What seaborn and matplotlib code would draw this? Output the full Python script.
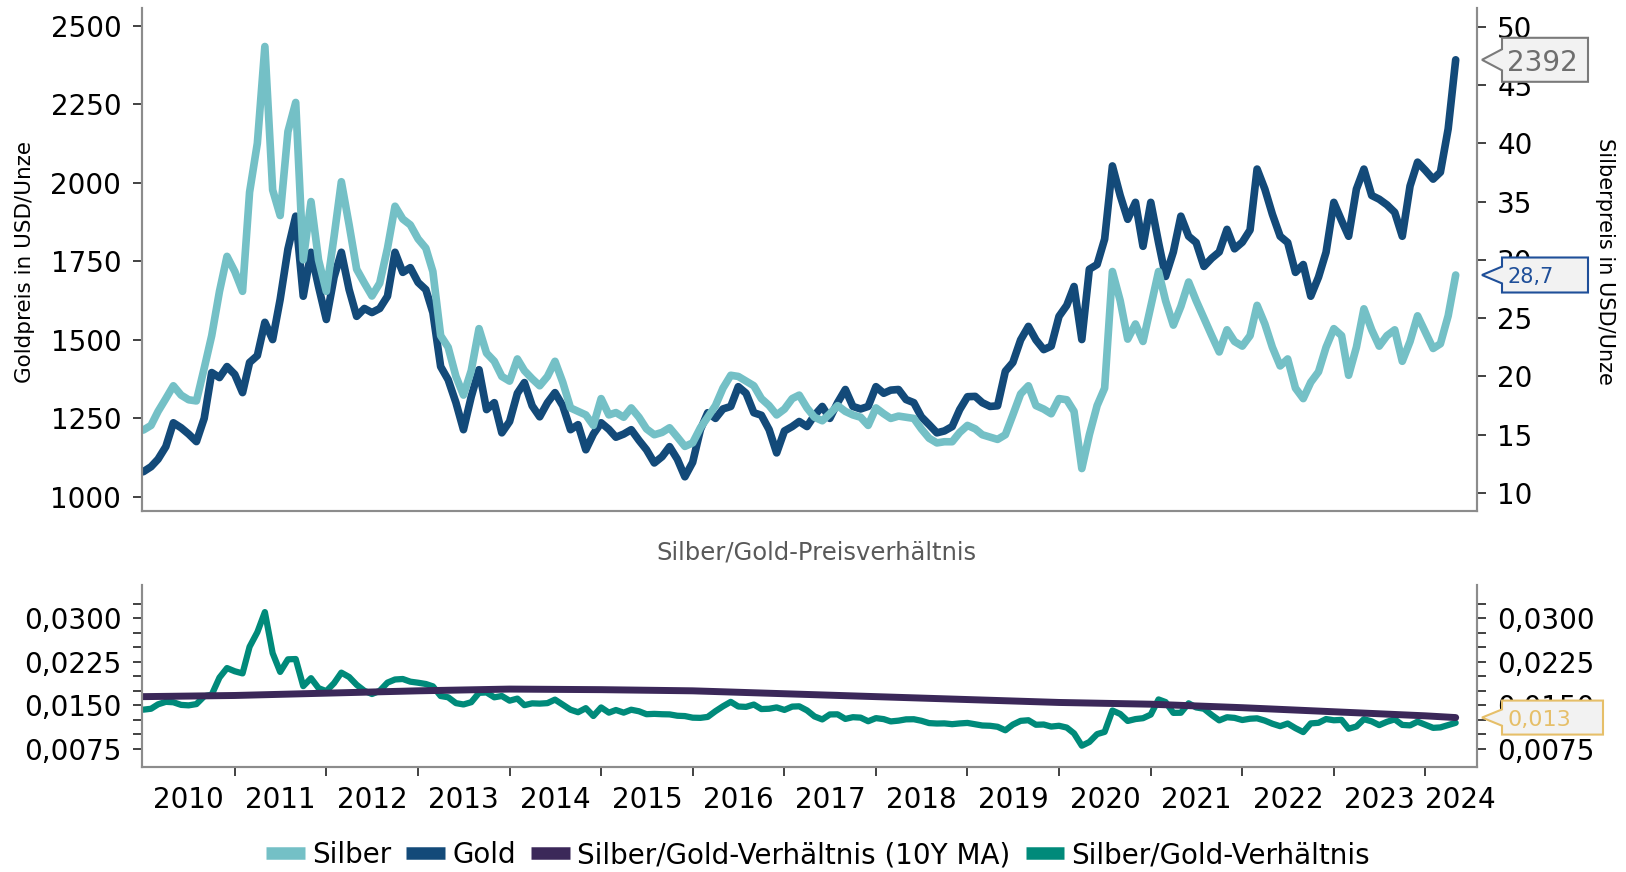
import numpy as np
import pandas as pd
import matplotlib
matplotlib.use("Agg")
import matplotlib.pyplot as plt
from matplotlib.lines import Line2D
from matplotlib.patches import Polygon
from matplotlib.ticker import FixedLocator, FuncFormatter
import seaborn as sns

# monthly values Jan 2010 - May 2024
gold = [1080, 1096, 1120, 1160, 1236, 1220, 1200, 1176, 1250, 1396, 1380, 1415,
        1390, 1332, 1428, 1450, 1556, 1501, 1629, 1789, 1894, 1639, 1779, 1670,
        1565, 1700, 1779, 1660, 1575, 1600, 1587, 1600, 1639, 1779, 1715, 1730,
        1683, 1660, 1587, 1415, 1373, 1300, 1214, 1319, 1405, 1278, 1300, 1204,
        1240, 1330, 1364, 1290, 1255, 1300, 1332, 1290, 1214, 1230, 1150, 1200,
        1236, 1215, 1190, 1200, 1214, 1180, 1150, 1108, 1128, 1160, 1120, 1064,
        1110, 1214, 1268, 1250, 1280, 1288, 1351, 1330, 1268, 1260, 1214, 1140,
        1210, 1224, 1240, 1224, 1260, 1288, 1250, 1300, 1342, 1288, 1280, 1288,
        1351, 1330, 1340, 1342, 1310, 1300, 1255, 1230, 1204, 1210, 1224, 1278,
        1319, 1320, 1300, 1288, 1290, 1400, 1428, 1500, 1543, 1500, 1469, 1480,
        1575, 1610, 1670, 1501, 1725, 1740, 1821, 2054, 1960, 1884, 1938, 1798,
        1938, 1810, 1702, 1780, 1894, 1830, 1810, 1734, 1760, 1780, 1852, 1790,
        1811, 1850, 2044, 1980, 1900, 1830, 1810, 1715, 1740, 1639, 1700, 1779,
        1938, 1880, 1830, 1980, 2044, 1960, 1948, 1930, 1906, 1830, 1990, 2066,
        2040, 2012, 2034, 2172, 2392]

silver = [15.4, 15.8, 17.0, 18.1, 19.2, 18.4, 18.0, 17.9, 20.7, 23.5, 27.3, 30.3,
          29.0, 27.3, 35.8, 40.0, 48.3, 36.0, 33.8, 41.0, 43.5, 30.0, 35.0, 30.0,
          27.3, 32.0, 36.7, 33.0, 29.2, 28.0, 26.9, 28.0, 31.0, 34.6, 33.5, 33.0,
          31.8, 31.0, 29.0, 23.5, 22.5, 20.0, 18.4, 20.5, 24.1, 22.0, 21.3, 20.0,
          19.6, 21.5, 20.5, 19.8, 19.2, 20.0, 21.3, 19.5, 17.3, 17.0, 16.7, 15.8,
          18.1, 16.7, 16.9, 16.5, 17.3, 16.5, 15.5, 15.0, 15.2, 15.6, 14.8, 14.0,
          14.3, 15.6, 16.5, 17.5, 19.0, 20.1, 20.0, 19.6, 19.2, 18.1, 17.5, 16.7,
          17.2, 18.1, 18.4, 17.3, 16.5, 16.2, 16.8, 17.5, 17.0, 16.7, 16.5, 15.8,
          17.3, 16.8, 16.4, 16.6, 16.5, 16.4, 15.5, 14.7, 14.3, 14.4, 14.4, 15.2,
          15.8, 15.5, 15.0, 14.8, 14.6, 15.0, 16.7, 18.5, 19.2, 17.5, 17.2, 16.8,
          18.1, 18.0, 17.0, 12.1, 15.0, 17.5, 19.0, 29.0, 26.5, 23.2, 24.5, 23.0,
          26.0, 29.0, 26.5, 24.4, 26.0, 28.1, 26.5, 25.0, 23.5, 22.1, 24.0, 23.0,
          22.6, 23.5, 26.1, 24.5, 22.5, 20.9, 21.5, 19.0, 18.1, 19.5, 20.4, 22.5,
          24.1, 23.5, 20.1, 22.5, 25.8, 24.0, 22.6, 23.5, 24.0, 21.3, 23.0, 25.2,
          23.8, 22.4, 22.8, 25.2, 28.7]

# 10Y moving average of the ratio, read at the start of each year
ma_dates = ["2010-01-01", "2011-01-01", "2012-01-01", "2013-01-01", "2014-01-01",
            "2015-01-01", "2016-01-01", "2017-01-01", "2018-01-01", "2019-01-01",
            "2020-01-01", "2021-01-01", "2022-01-01", "2023-01-01", "2024-01-01",
            "2024-05-01"]
ma_ratio = [0.0165, 0.0167, 0.0171, 0.0175, 0.0178, 0.0177, 0.0175, 0.0170,
            0.0165, 0.0160, 0.0155, 0.0152, 0.0146, 0.0139, 0.0132, 0.0129]

years = list(range(2010, 2025))
gold_ticks = [1000, 1250, 1500, 1750, 2000, 2250, 2500]
silver_ticks = [10, 15, 20, 25, 30, 35, 40, 45, 50]
ratio_labels = [0.0075, 0.0150, 0.0225, 0.0300]

c_silver = "#74c0c6"
c_gold = "#134a79"
c_ma = "#3b2859"
c_ratio = "#008a7a"
c_spine = "#8c8c8c"

df = pd.DataFrame({"date": pd.date_range("2010-01-01", periods=len(gold), freq="MS"),
                   "Gold": gold, "Silber": silver})
df["Verh"] = df["Silber"] / df["Gold"]
ma_df = pd.DataFrame({"date": pd.to_datetime(ma_dates), "MA": ma_ratio})

sns.set_theme(style="ticks")
plt.rcParams["font.family"] = ["DejaVu Sans"]
plt.rcParams["text.color"] = "black"
plt.rcParams["xtick.labelcolor"] = "black"
plt.rcParams["ytick.labelcolor"] = "black"

W, H = 1626, 872
fig = plt.figure(figsize=(W / 100, H / 100), dpi=100)
ax_top = fig.add_axes([141.5 / W, 1 - 511 / H, (1477 - 141.5) / W, (511 - 8) / H])
ax_sil = ax_top.twinx()
ax_bot = fig.add_axes([141.5 / W, 1 - 767 / H, (1477 - 141.5) / W, (767 - 585) / H])
ax_bot_r = ax_bot.twinx()

sns.lineplot(data=df, x="date", y="Gold", ax=ax_top, color=c_gold, lw=5.5, legend=False)
sns.lineplot(data=df, x="date", y="Silber", ax=ax_sil, color=c_silver, lw=5.5, legend=False)
sns.lineplot(data=df, x="date", y="Verh", ax=ax_bot, color=c_ratio, lw=4.5, legend=False)
sns.lineplot(data=ma_df, x="date", y="MA", ax=ax_bot, color=c_ma, lw=5, legend=False)

xlim = (pd.Timestamp("2009-12-25"), pd.Timestamp("2024-07-25"))
for ax in (ax_top, ax_sil, ax_bot, ax_bot_r):
    ax.set_xlim(xlim)
    ax.set_xlabel("")
    ax.set_ylabel("")
    for s in ax.spines.values():
        s.set_color(c_spine)
        s.set_linewidth(1.5)
    ax.spines["top"].set_visible(False)

ax_top.set_ylim(955, 2557)
ax_sil.set_ylim(8.46, 51.6)
ax_top.yaxis.set_major_locator(FixedLocator(gold_ticks))
ax_sil.yaxis.set_major_locator(FixedLocator(silver_ticks))
ax_top.tick_params(axis="x", bottom=False, labelbottom=False)
ax_top.tick_params(axis="y", labelsize=20, length=6.5, width=1.3, color="#333333", pad=8)
ax_sil.tick_params(axis="y", labelsize=20, length=6.5, width=1.3, color="#333333", pad=8)

# bottom panel y axis (both sides)
ratio_ticks = np.arange(0.0075, 0.0326, 0.0025)
def ratio_fmt(v, _):
    if any(abs(v - r) < 1e-7 for r in ratio_labels):
        return f"{v:.4f}".replace(".", ",")
    return ""
for ax in (ax_bot, ax_bot_r):
    ax.set_ylim(0.0044, 0.0357)
    ax.yaxis.set_major_locator(FixedLocator(ratio_ticks))
    ax.yaxis.set_major_formatter(FuncFormatter(ratio_fmt))
    ax.tick_params(axis="y", labelsize=20, length=6.5, width=1.3, color="#333333", pad=8)

# year ticks at year starts, labels centred in each year's span
edges = [xlim[0]] + [pd.Timestamp(f"{y}-01-01") for y in years[1:]] + [xlim[1]]
mids = [edges[i] + (edges[i + 1] - edges[i]) / 2 for i in range(len(years))]
mids[-1] = edges[-2] + (edges[-1] - edges[-2]) * 0.68  # last label sits a bit to the right
ax_bot.set_xticks(edges[1:-1])
ax_bot.set_xticklabels([])
ax_bot.set_xticks(mids, minor=True)
ax_bot.set_xticklabels([str(y) for y in years], minor=True)
ax_bot.tick_params(axis="x", which="major", length=6.5, width=1.3, color="#333333")
ax_bot.tick_params(axis="x", which="minor", length=0, labelsize=20, pad=14)
ax_bot_r.tick_params(axis="x", bottom=False, labelbottom=False)

fig.text(25 / W, 1 - 262 / H, "Goldpreis in USD/Unze", rotation=90, ha="center",
         va="center", fontsize=15.5)
fig.text(1605 / W, 1 - 261 / H, "Silberpreis in USD/Unze", rotation=270, ha="center",
         va="center", fontsize=15)
fig.text(816 / W, 1 - 553 / H, "Silber/Gold-Preisverhältnis", ha="center", va="center",
         fontsize=17.5, color="#595959")


def callout(ax, yval, label, tcolor, ecolor, fs, w, h):
    yt = ax.transData.transform((ax.get_xlim()[0], yval))[1]
    xt = 1482
    x0 = xt + 20
    pts = [(xt, yt), (x0, yt + 0.24 * h), (x0, yt + h / 2), (x0 + w, yt + h / 2),
           (x0 + w, yt - h / 2), (x0, yt - h / 2), (x0, yt - 0.24 * h)]
    pts = [(px / W, py / H) for px, py in pts]
    fig.patches.append(Polygon(pts, closed=True, transform=fig.transFigure,
                               facecolor="#f2f2f2", edgecolor=ecolor, lw=1.5, zorder=5))
    fig.text((x0 + 5) / W, yt / H, label, ha="left", va="center_baseline",
             fontsize=fs, color=tcolor, zorder=6)


callout(ax_top, gold[-1], f"{gold[-1]:.0f}", "#6e6e6e", "#7a7a7a", 20, 86, 44)
callout(ax_sil, silver[-1], f"{silver[-1]:.1f}".replace(".", ","), "#1f4f99", "#1f4f99", 15, 86, 35)
callout(ax_bot, ma_ratio[-1], f"{ma_ratio[-1]:.3f}".replace(".", ","), "#e6bf69", "#e6bf69", 16, 101, 34)

handles = [Line2D([], [], color=c, lw=9, solid_capstyle="butt")
           for c in (c_silver, c_gold, c_ma, c_ratio)]
labels = ["Silber", "Gold", "Silber/Gold-Verhältnis (10Y MA)", "Silber/Gold-Verhältnis"]
fig.legend(handles, labels, loc="center", bbox_to_anchor=(818 / W, 1 - 855 / H), ncol=4,
           frameon=False, fontsize=20, handlelength=1.4, handletextpad=0.25,
           columnspacing=0.55)

fig.savefig("out.png", dpi=100)
